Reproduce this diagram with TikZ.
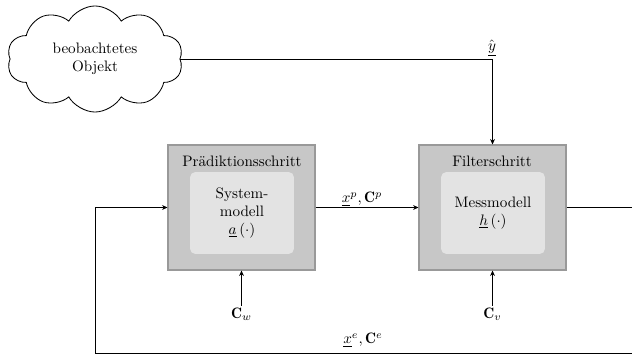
\documentclass[tikz,border=0pt]{standalone}
\usepackage{fontspec}
\usetikzlibrary{shapes.symbols,arrows.meta}
\begin{document}
\begin{tikzpicture}[x=0.66pt,y=-0.66pt,
  outerbox/.style={draw=black!40, fill=black!22, line width=0.7pt, minimum width=97pt, minimum height=82.5pt, inner sep=0pt},
  innerbox/.style={fill=black!11, rounded corners=3.5pt, minimum width=68.6pt, minimum height=54.1pt, align=center, inner sep=0pt},
  conn/.style={line width=0.55pt, -{Stealth[length=3.6pt,width=3.2pt]}},
  lbl/.style={inner sep=1pt}]
\clip (0,0) rectangle (632,356);
\node[cloud, draw, cloud puffs=10, cloud puff arc=120, aspect=1.6, minimum width=116pt, minimum height=70pt, align=center, line width=0.55pt] (obj) at (95,59) {beobachtetes\\Objekt};
\node[outerbox] (pred) at (241.5,207.5) {};
\node[innerbox] (predi) at (242,213) {System-\\modell\\$\underline{a}\left(\cdot\right)$};
\node[lbl] (predt) at (242,161) {Prädiktionsschritt};
\node[outerbox] (filt) at (492.5,207.5) {};
\node[innerbox] (filti) at (493,213) {Messmodell\\$\underline{h}\left(\cdot\right)$};
\node[lbl] (filtt) at (492,161) {Filterschritt};
\node[lbl] (cw) at (241.5,314) {$\mathbf{C}_w$};
\node[lbl] (cv) at (492.5,314) {$\mathbf{C}_v$};
\node[lbl] (yhat) at (492,48) {$\hat{\underline{y}}$};
\node[lbl] (xp) at (362,199) {$\underline{x}^p, \mathbf{C}^p$};
\node[lbl] (xe) at (363,340) {$\underline{x}^e, \mathbf{C}^e$};
\coordinate (fr) at (645,353.5);
\coordinate (fl) at (95,353.5);
\draw[conn] (obj.east) -| (filt.north);
\draw[conn] (pred.east) -- (filt.west);
\draw[conn] (cw.north) -- (pred.south);
\draw[conn] (cv.north) -- (filt.south);
\draw[conn] (filt.east) -- (filt.east -| fr) -- (fr) -- (fl) |- (pred.west);
\end{tikzpicture}
\end{document}
